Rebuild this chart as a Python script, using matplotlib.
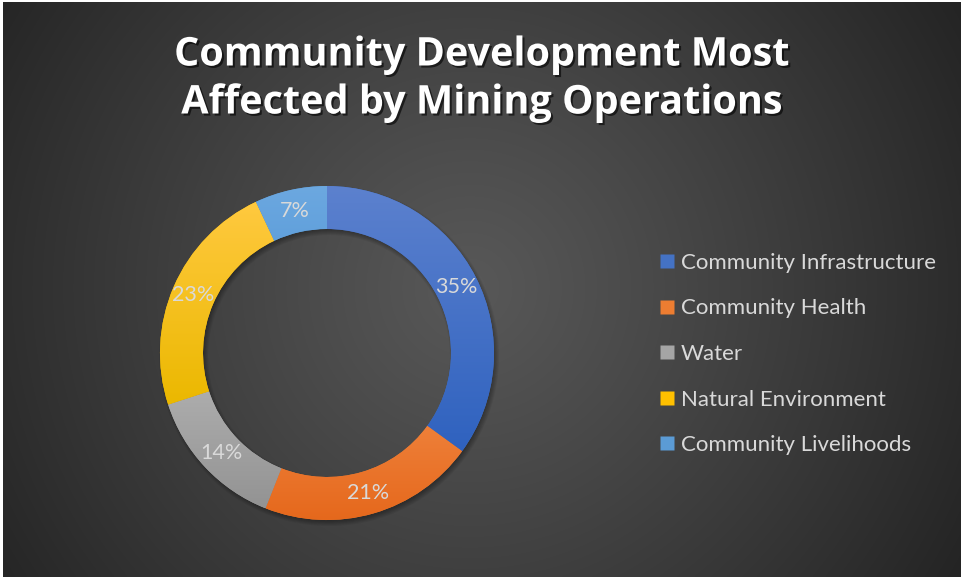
import numpy as np
import matplotlib
matplotlib.use("Agg")
import matplotlib.pyplot as plt
from matplotlib.lines import Line2D
from matplotlib.patches import Wedge
import matplotlib.patheffects as pe
from matplotlib.colors import to_rgb

# data
categories = ["Community Infrastructure", "Community Health", "Water",
              "Natural Environment", "Community Livelihoods"]
shares = [35, 21, 14, 23, 7]
# slice fills: (top colour, bottom colour) of the vertical gradient
top_colors = ["#5C81CE", "#F5924F", "#B5B5B5", "#FFC93F", "#6CA8E0"]
bottom_colors = ["#2F62BF", "#E5671B", "#939393", "#EBB800", "#4990D3"]
legend_colors = ["#4472C4", "#ED7D31", "#A5A5A5", "#FFC000", "#5B9BD5"]

W, H = 961, 578
fig = plt.figure(figsize=(W / 100, H / 100), dpi=100)
fig.patch.set_facecolor("white")
ax = fig.add_axes([0, 0, 1, 1])

# chart area with radial background
x0, y0, x1, y1 = 3, 1, W, H - 2
gx, gy = np.meshgrid(np.linspace(x0, x1, 400), np.linspace(y0, y1, 250))
cxb, cyb = 470, 290
d = np.hypot(gx - cxb, gy - cyb)
d = d / d.max()
c_in, c_out = np.array(to_rgb("#585858")), np.array(to_rgb("#242424"))
t = np.clip(d, 0, 1)[..., None] ** 1.1
bg = c_in * (1 - t) + c_out * t
ax.imshow(bg, extent=[x0, x1, y0, y1], origin="lower", zorder=0,
          interpolation="bilinear", aspect="auto")

cx, cy, R = 327, H - 353, 167
width = 43

# soft shadow under the ring
for k in range(6):
    ax.add_patch(Wedge((cx + 2, cy - 3), R + 3 - k, 0, 360, width=width + 6 - 2 * k,
                       facecolor="black", alpha=0.06, edgecolor="none", zorder=1))

wedges, texts, autotexts = ax.pie(
    shares, startangle=90, counterclock=False, radius=R, center=(cx, cy),
    colors=legend_colors, wedgeprops=dict(width=width, edgecolor="none"),
    autopct="%1.0f%%", pctdistance=(R - width / 2) / R, frame=True,
    textprops=dict(color="#D9D9D9", fontsize=15.5, family="Lato"))

# gradient fill clipped to each slice
for w, ctop, cbot in zip(wedges, top_colors, bottom_colors):
    verts = w.get_path().vertices
    ymin, ymax = verts[:, 1].min(), verts[:, 1].max()
    xmin, xmax = verts[:, 0].min(), verts[:, 0].max()
    s = np.linspace(0, 1, 200)[:, None, None]
    grad = np.array(to_rgb(cbot)) * (1 - s) + np.array(to_rgb(ctop)) * s
    im = ax.imshow(grad, extent=[xmin, xmax, ymin, ymax], origin="lower",
                   aspect="auto", zorder=2, interpolation="bilinear")
    im.set_clip_path(w)
    w.set_zorder(2)
for tx in autotexts:
    tx.set_zorder(4)

ax.set_xlim(0, W)
ax.set_ylim(0, H)
ax.set_aspect("auto")
ax.axis("off")

ax.text(482, H - 79, "Community Development Most\nAffected by Mining Operations",
        ha="center", va="center", color="white", fontsize=28.5, fontweight="bold",
        family="Open Sans", linespacing=1.3, zorder=5,
        path_effects=[pe.SimplePatchShadow(offset=(1.5, -1.5), shadow_rgbFace="black",
                                           alpha=0.6), pe.Normal()])

handles = [Line2D([], [], marker="s", linestyle="none", markersize=10.5,
                  markerfacecolor=c, markeredgecolor="none") for c in legend_colors]
leg = ax.legend(handles, categories, loc="center left",
                bbox_to_anchor=(650 / W, 1 - 354 / H), frameon=False,
                prop=dict(family="Lato", size=16), labelcolor="#D9D9D9",
                handlelength=0.7, handletextpad=0.3, labelspacing=1.15,
                borderaxespad=0)
leg.set_zorder(5)

fig.savefig("out.png", dpi=100, facecolor="white")
